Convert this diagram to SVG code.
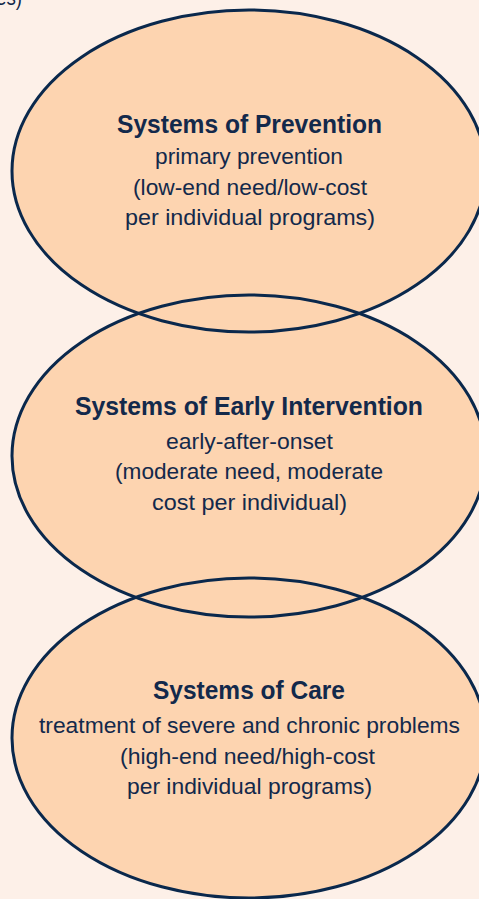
<svg xmlns="http://www.w3.org/2000/svg" width="479" height="899" viewBox="0 0 479 899">
<style>
.bg{fill:#fdf0e8}
.fill{fill:#fdd4b0;stroke:none}
.outline{fill:none;stroke:#0a284c;stroke-width:3}
text{font-family:"Liberation Sans",Arial,sans-serif;fill:#13294b;text-anchor:middle}
.t{font-weight:bold;font-size:25px}
.b{font-size:22px}
</style>
<rect class="bg" x="0" y="0" width="479" height="899"/>
<text class="b" x="22" y="5" style="text-anchor:end" textLength="26" lengthAdjust="spacingAndGlyphs">es)</text>
<g id="fills">
<ellipse class="fill" cx="249" cy="171" rx="237" ry="161"/>
<ellipse class="fill" cx="249" cy="456" rx="237" ry="161"/>
<ellipse class="fill" cx="249" cy="738" rx="237" ry="160"/>
</g>
<g id="prevention">
<ellipse class="outline" cx="249" cy="171" rx="237" ry="161"/>
<text class="t" x="249.5" y="133" textLength="265" lengthAdjust="spacingAndGlyphs">Systems of Prevention</text>
<text class="b" x="249" y="164" textLength="188" lengthAdjust="spacingAndGlyphs">primary prevention</text>
<text class="b" x="250" y="194.5" textLength="234" lengthAdjust="spacingAndGlyphs">(low-end need/low-cost</text>
<text class="b" x="250" y="225" textLength="250" lengthAdjust="spacingAndGlyphs">per individual programs)</text>
</g>
<g id="early-intervention">
<ellipse class="outline" cx="249" cy="456" rx="237" ry="161"/>
<text class="t" x="249" y="415" textLength="348" lengthAdjust="spacingAndGlyphs">Systems of Early Intervention</text>
<text class="b" x="249.5" y="448.5" textLength="167" lengthAdjust="spacingAndGlyphs">early-after-onset</text>
<text class="b" x="249" y="479" textLength="268" lengthAdjust="spacingAndGlyphs">(moderate need, moderate</text>
<text class="b" x="249.5" y="510" textLength="195" lengthAdjust="spacingAndGlyphs">cost per individual)</text>
</g>
<g id="care">
<ellipse class="outline" cx="249" cy="738" rx="237" ry="160"/>
<text class="t" x="249" y="699" textLength="192" lengthAdjust="spacingAndGlyphs">Systems of Care</text>
<text class="b" x="249.5" y="733" textLength="421" lengthAdjust="spacingAndGlyphs">treatment of severe and chronic problems</text>
<text class="b" x="247.5" y="763.5" textLength="255" lengthAdjust="spacingAndGlyphs">(high-end need/high-cost</text>
<text class="b" x="249.5" y="794" textLength="245" lengthAdjust="spacingAndGlyphs">per individual programs)</text>
</g>
<g id="connectors"></g>
</svg>
